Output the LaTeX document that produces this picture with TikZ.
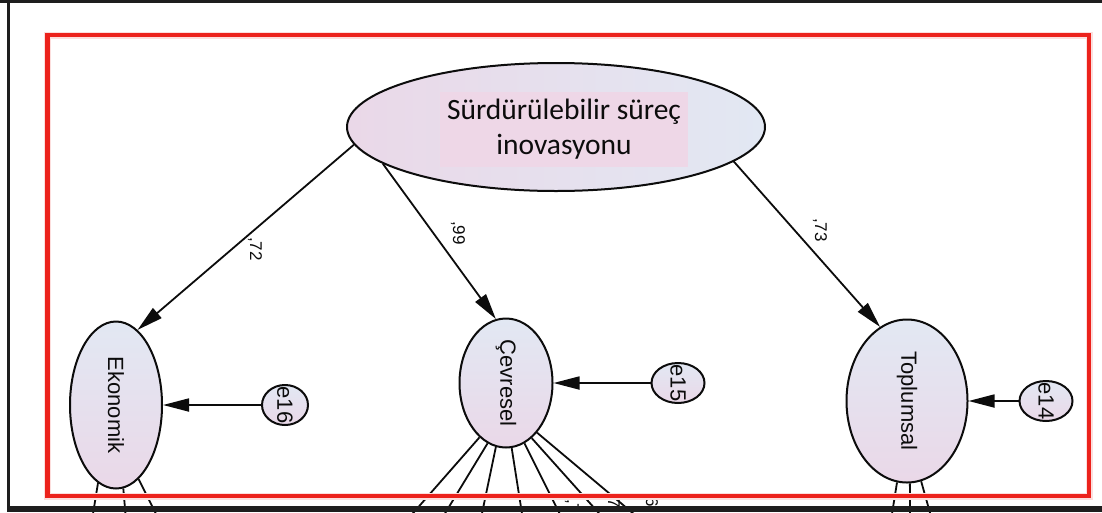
\documentclass[tikz,border=0pt]{standalone}
\usepackage{fontspec}
\setmainfont{Liberation Sans}
\newfontfamily\calibri{Carlito}
\usetikzlibrary{arrows.meta,shapes.geometric}

\definecolor{lilacA}{RGB}{234,216,232}
\definecolor{lilacB}{RGB}{226,232,243}
\definecolor{boxpink}{RGB}{238,215,231}
\definecolor{framered}{RGB}{236,34,28}
\definecolor{frameblack}{RGB}{30,30,30}
\definecolor{ink}{RGB}{12,12,12}

\begin{document}
\begin{tikzpicture}[x=1pt,y=-1pt,
  latentbase/.style={ellipse, draw=ink, line width=2pt, inner sep=0pt},
  latent/.style={latentbase, top color=lilacB, bottom color=lilacA},
  loading/.style={draw=ink, line width=1.8pt,
                  -{Triangle[length=26pt,width=13pt]}},
  spoke/.style={draw=ink, line width=1.8pt},
  vtext/.style={rotate=-90, inner sep=0pt, text=ink,
                font=\fontsize{22}{22}\selectfont},
  coef/.style={rotate=-90, inner sep=0pt, text=ink,
               font=\fontsize{17}{17}\selectfont},
]
\useasboundingbox (0,0) rectangle (1102,512);
\clip (0,0) rectangle (1102,512);
\fill[white] (0,0) rectangle (1102,512);

% second-order factor
\node[latentbase, minimum width=418pt, minimum height=128pt,
      left color=lilacA, right color=lilacB]
      (sust) at (556,127) {};
\node[fill=boxpink, minimum width=248pt, minimum height=75pt, inner sep=0pt,
      align=center, text=ink, font=\calibri\fontsize{29.5}{35}\selectfont]
      (title) at (564,129.5) {Sürdürülebilir süreç\\inovasyonu};

% first-order factors
\node[latent, minimum width=92pt, minimum height=167pt] (eko) at (116,405) {};
\node[vtext] (ekoT) at (eko) {Ekonomik};
\node[latent, minimum width=93pt, minimum height=129pt] (cev) at (506,383) {};
\node[vtext] (cevT) at (cev) {Çevresel};
\node[latent, minimum width=121pt, minimum height=163pt] (topl) at (907,401) {};
\node[vtext] (toplT) at (topl) {Toplumsal};

% disturbances
\node[latent, minimum width=46pt, minimum height=40pt] (e16) at (285,405) {};
\node[vtext] (e16T) at (e16) {e16};
\node[latent, minimum width=53pt, minimum height=40pt] (e15) at (678,383) {};
\node[vtext] (e15T) at (e15) {e15};
\node[latent, minimum width=53pt, minimum height=40pt] (e14) at (1046,401) {};
\node[vtext] (e14T) at (e14) {e14};

% loadings
\draw[loading] (sust.185.5) -- (eko.74.5);
\draw[loading] (sust.192) -- (cev.99.6);
\draw[loading] (sust.349) -- (topl.110);
\node[coef] (k72) at (255,249) {,72};
\node[coef] (k99) at (458,233) {,99};
\node[coef] (k73) at (820,230) {,73};

% residual paths
\draw[loading] (e16) -- (eko);
\draw[loading] (e15) -- (cev);
\draw[loading] (e14) -- (topl);

% paths towards the indicators below
\foreach \a/\x [count=\i] in {257/92, 275/126, 287/159} {
  \coordinate (ekoS\i) at (\x,520);
  \draw[spoke] (eko.\a) -- (ekoS\i);
}
\foreach \a/\x [count=\i] in {244.7/407, 253/441, 261.9/480.6, 275.4/523,
                              287.6/562.8, 295.3/605, 302/641} {
  \coordinate (cevS\i) at (\x,520);
  \draw[spoke] (cev.\a) -- (cevS\i);
}
\foreach \a/\x [count=\i] in {263/891, 272/910, 280/932} {
  \coordinate (toplS\i) at (\x,520);
  \draw[spoke] (topl.\a) -- (toplS\i);
}
\node[coef, anchor=west] (k7a) at (572,499) {,7};
\node[coef, anchor=west] (k7b) at (613,494) {,7};
\node[coef, anchor=west] (k6) at (651,493) {,6};

% highlight frame
\draw[framered!15, line width=7pt] (47.5,35) rectangle (1089,496);
\draw[framered, line width=4.5pt] (47.5,35) rectangle (1089,496);

% window edges
\fill[frameblack] (0,0) rectangle (1102,3);
\fill[frameblack] (7,0) rectangle (10,512);
\fill[frameblack] (7,506) rectangle (1102,512);
\end{tikzpicture}
\end{document}
